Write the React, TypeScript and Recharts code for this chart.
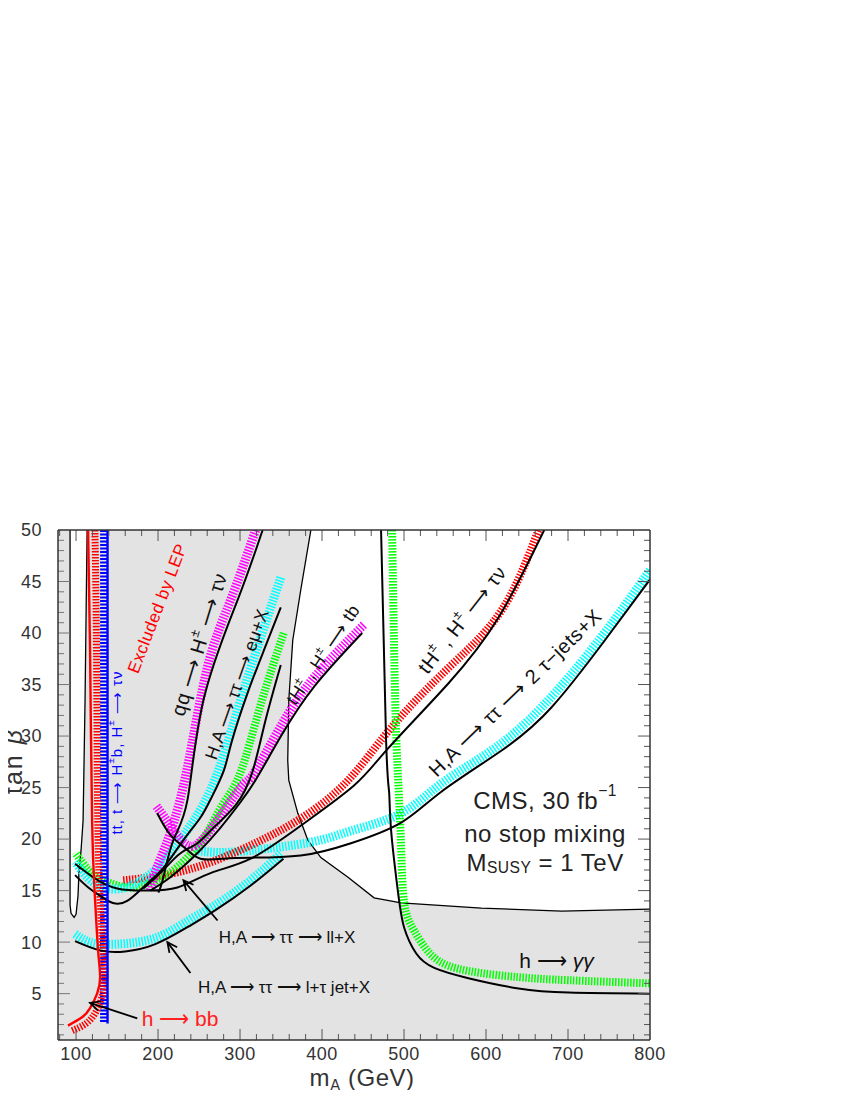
import React from 'react';
import {
  ComposedChart,
  Line,
  Area,
  XAxis,
  YAxis,
  CartesianGrid,
  ReferenceLine,
  ReferenceDot,
} from 'recharts';

type Pt = [number, number]; // [m_A (GeV), tan beta]

const FONT = '"Liberation Sans", Arial, sans-serif';
const X_MIN = 78;
const X_MAX = 800;
const Y_MIN = 0.5;
const Y_MAX = 50;
const PLOT_W = 592;
const PLOT_H = 510;

const xTicks = [100, 200, 300, 400, 500, 600, 700, 800];
const yTicks = [5, 10, 15, 20, 25, 30, 35, 40, 45, 50];

// unshaded regions
const lepChannel: Pt[] = [[92.7, 50], [92.7, 13.6], [93.9, 12.8], [97.6, 12.4], [100, 12.7], [102.4, 14.5], [103.7, 17.0], [106.1, 18.9], [108.6, 21.8], [111, 33.5], [113.5, 50]];
const upperRightWhite: Pt[] = [[386.4, 50], [374.1, 44.2], [364.3, 39.3], [359.5, 33.5], [358.2, 27.6], [359.5, 25.7], [370.5, 22.5], [382.7, 19.9], [398.6, 18.2], [431.7, 16.3], [463.5, 14.3], [496.5, 13.8], [594.4, 13.3], [692.3, 13.0], [800, 13.2]];

// excluded by LEP / h -> bb
const lepLine: Pt[] = [[114.7, 50], [117.1, 38.3], [119.6, 21.8], [123.3, 14.0], [126.9, 9.2], [129.4, 6.6], [125.7, 5.0], [117.1, 3.6], [107.3, 2.7], [90.2, 1.9]];
const lepHatch: Pt[] = [[123, 50], [125, 38.3], [126.5, 21.8], [129.5, 14], [133, 9.2], [135.5, 6.8], [132, 4.8], [124, 3.2], [112.2, 2.1], [95, 1.4]];

// tt, t -> H+ b, H+ -> tau nu
const topLine: Pt[] = [[138.4, 50], [138.4, 2.1]];
const topHatch: Pt[] = [[133.6, 50], [133.6, 2.1]];

// qq -> H+ -> tau nu
const qqHatch: Pt[] = [[319, 50], [288.5, 43.2], [260.3, 36.7], [235.9, 27], [215, 20.6], [199, 17.3], [190.6, 15]];
const qqLine: Pt[] = [[327.6, 50], [297, 43.2], [255.4, 33.5], [235.9, 23.8], [218.7, 19.9], [206.5, 16.3], [200.4, 14.8]];

// H,A -> tau tau -> e mu + X
const emuHatch: Pt[] = [[349.7, 45.4], [325, 39.5], [300, 33.3], [276, 27.2], [255, 23.3], [235, 20.8], [215, 18.6], [195, 16.9], [175, 15.8], [155, 15.2], [133, 15.3], [115, 16.2], [99, 17.8]];
const emuLine: Pt[] = [[349.7, 42.5], [330, 38.5], [309.3, 34.2], [290, 29.5], [280, 26.6], [265, 24], [251.8, 22.1], [231, 19.9], [206.5, 17.2], [186.9, 15.7], [162.4, 14.0], [145, 13.8], [133, 14.3], [115, 15.3], [98.8, 16.5]];

// H,A -> tau tau -> ll + X
const llHatch: Pt[] = [[353.3, 40], [325, 33], [300.7, 26.5], [280, 23.5], [264, 21.2], [248, 19.3], [223.6, 17.3], [199, 16], [180, 15.5], [162.4, 15.3], [133, 16], [115, 17], [98.8, 18.7]];
const llLine: Pt[] = [[349.7, 36.9], [331, 31.5], [315, 26.5], [294.6, 23.3], [267.7, 21.1], [248, 19.6], [227, 18.6], [206.5, 17], [182, 15.2]];

// tH+, H+ -> tb
const tbHatch: Pt[] = [[451, 40.8], [390.4, 35.7], [350, 31], [317, 26.4], [300.7, 25], [267.7, 21.3], [252, 19.8], [243, 19.3], [232, 19.6], [220, 20.7], [208, 22.1], [197, 23.3]];
const tbLine: Pt[] = [[449, 40], [390.4, 34.8], [350, 30], [321, 26], [300.7, 23.6], [275, 21], [250, 18.8], [230, 17.3], [210, 16], [190.6, 15]];

// tH+, H+ -> tau nu
const tauNuHatch: Pt[] = [[157.5, 16.0], [199, 16.4], [251.8, 17.4], [313, 19.4], [374, 22], [431.7, 25.7], [484.3, 30.8], [554, 36.6], [619, 42.2], [664, 50]];
const tauNuLine: Pt[] = [[98.8, 17.6], [120.8, 16.3], [150.2, 15.2], [186.9, 15.0], [223.6, 15.3], [264, 16.7], [313, 18.1], [374, 21.3], [439, 25.2], [480.6, 28.8], [554, 35.1], [615.3, 41.5], [671, 50]];

// H,A -> tau tau -> 2 tau-jets + X
const twoTauHatch: Pt[] = [[245.6, 18.9], [272.6, 18.7], [313, 18.9], [386.4, 19.7], [435.3, 20.8], [496.5, 22.5], [545.5, 25.4], [606.7, 28.6], [667.9, 32.8], [737.6, 39.3], [800, 46.1]];
const twoTauLine: Pt[] = [[199, 22.5], [215, 20.4], [233.4, 19.1], [251.8, 18.1], [280, 18.1], [313, 18.2], [374, 18.4], [435.3, 19.6], [496.5, 21.6], [545.5, 24.6], [619, 28.6], [680, 32.8], [745, 39.3], [800, 45.2]];

// H,A -> tau tau -> l + tau jet + X
const lTauHatch: Pt[] = [[98.8, 10.8], [117, 10], [147.7, 9.8], [196.7, 10.4], [237, 12.1], [270, 13.6], [313, 16], [349.7, 18.6]];
const lTauLine: Pt[] = [[98.8, 10.1], [129.4, 9.2], [160, 9.1], [196.7, 9.8], [237, 11.5], [270, 13.1], [313, 15.5], [353, 18.1]];

// h -> gamma gamma
const ggHatch: Pt[] = [[485.5, 50], [489.2, 33.5], [492.9, 25.7], [496.5, 19.2], [500.2, 13.8], [512.4, 11.1], [536.9, 8.5], [578.5, 7.2], [639.7, 6.6], [700.9, 6.3], [800, 6.0]];
const ggLine: Pt[] = [[472, 50], [478.2, 29.4], [481.9, 24.5], [484.3, 20.8], [492.9, 14.7], [500.2, 11.4], [514.9, 8.9], [536.9, 7.5], [578.5, 6.5], [639.7, 5.5], [700.9, 5.1], [800, 5.0]];

// arrows: [tail, tip]
const llArrow: Pt[] = [[272.6, 12.1], [231, 16.0]];
const lTauArrow: Pt[] = [[239.5, 7.0], [211.4, 10.0]];
const bbArrow: Pt[] = [[174.7, 2.6], [117.1, 4.1]];

const KX = PLOT_W / (X_MAX - X_MIN);
const KY = PLOT_H / (Y_MAX - Y_MIN);

const pts = (a: Pt[]) => a.map(([m, t]) => ({ m, t }));

const arrowHead = (tail: Pt, tip: Pt, len = 11, spread = 0.45): Pt[] => {
  const dx = (tip[0] - tail[0]) * KX;
  const dy = -(tip[1] - tail[1]) * KY;
  const n = Math.hypot(dx, dy);
  const ux = dx / n;
  const uy = dy / n;
  const wing = (a: number): Pt => {
    const c = Math.cos(a);
    const s = Math.sin(a);
    const wx = -(ux * c - uy * s) * len;
    const wy = -(ux * s + uy * c) * len;
    return [tip[0] + wx / KX, tip[1] - wy / KY];
  };
  return [wing(spread), tip, wing(-spread)];
};

const hatch = (key: string, data: Pt[], color: string, width = 8, dash = '1.5 1.5') => (
  <Line
    key={key}
    data={pts(data)}
    dataKey="t"
    type="natural"
    stroke={color}
    strokeWidth={width}
    strokeDasharray={dash}
    dot={false}
    activeDot={false}
    isAnimationActive={false}
  />
);

const solid = (key: string, data: Pt[], color = '#000', width = 2, type: any = 'natural') => (
  <Line
    key={key}
    data={pts(data)}
    dataKey="t"
    type={type}
    stroke={color}
    strokeWidth={width}
    dot={false}
    activeDot={false}
    isAnimationActive={false}
  />
);

type Seg = { t: string; sup?: boolean; sub?: boolean; it?: boolean };

const rich = (segs: Seg[], size: number) => {
  let off = 0;
  return segs.map((s, i) => {
    const target = s.sup ? -size * 0.4 : s.sub ? size * 0.22 : 0;
    const dy = target - off;
    off = target;
    return (
      <tspan
        key={i}
        dy={dy}
        fontSize={s.sup || s.sub ? size * 0.65 : size}
        fontStyle={s.it ? 'italic' : undefined}
      >
        {s.t}
      </tspan>
    );
  });
};

const textAt = (key: string, at: Pt, angle: number, size: number, color: string, segs: Seg[], ls = 0) => (
  <ReferenceDot
    key={key}
    x={at[0]}
    y={at[1]}
    r={0}
    fill="none"
    stroke="none"
    ifOverflow="visible"
    label={(p: any) => {
      const vb = p.viewBox || {};
      const cx = (vb.x ?? 0) + (vb.width ?? 0) / 2;
      const cy = (vb.y ?? 0) + (vb.height ?? 0) / 2;
      return (
        <text
          x={cx}
          y={cy}
          transform={angle ? `rotate(${angle} ${cx} ${cy})` : undefined}
          textAnchor="middle"
          dominantBaseline="central"
          fontSize={size}
          fill={color}
          fontFamily={FONT}
          letterSpacing={ls}
        >
          {rich(segs, size)}
        </text>
      );
    }}
  />
);

const ARR = '\u27F6';

export default function App() {
  // inward tick marks on all four sides
  const tickLines: React.ReactNode[] = [];
  for (let v = 80; v < 800; v += 20) {
    const len = v % 100 === 0 ? 11 / KY : 6 / KY;
    tickLines.push(
      <ReferenceLine key={`bx${v}`} segment={[{ x: v, y: Y_MIN }, { x: v, y: Y_MIN + len }]} stroke="#555" strokeWidth={1} />,
      <ReferenceLine key={`tx${v}`} segment={[{ x: v, y: Y_MAX }, { x: v, y: Y_MAX - len }]} stroke="#555" strokeWidth={1} />
    );
  }
  for (let v = 1; v < 50; v += 1) {
    const len = v % 5 === 0 ? 12 / KX : 6 / KX;
    tickLines.push(
      <ReferenceLine key={`ly${v}`} segment={[{ x: X_MIN, y: v }, { x: X_MIN + len, y: v }]} stroke="#777" strokeWidth={1} />,
      <ReferenceLine key={`ry${v}`} segment={[{ x: X_MAX, y: v }, { x: X_MAX - len, y: v }]} stroke="#555" strokeWidth={1} />
    );
  }

  return (
    <div style={{ margin: -8 }}>
      <ComposedChart width={688} height={1098} margin={{ top: 530, right: 38, bottom: 8, left: 8 }}>
        <CartesianGrid horizontal={false} vertical={false} fill="#e3e3e3" />
        <XAxis
          type="number"
          dataKey="m"
          domain={[X_MIN, X_MAX]}
          ticks={xTicks}
          interval={0}
          allowDataOverflow
          axisLine={false}
          tickLine={false}
          height={50}
          tickSize={4}
          tickMargin={3}
          tick={{ fontSize: 18, fill: '#333', fontFamily: FONT, letterSpacing: 0.5 }}
          label={(p: any) => {
            const vb = p.viewBox || {};
            const cx = vb.x + vb.width / 2 + 8;
            return (
              <text x={cx} y={vb.y + 46} textAnchor="middle" fontSize={24} fill="#333" fontFamily={FONT} letterSpacing={0.5}>
                {rich([{ t: 'm' }, { t: 'A', sub: true }, { t: ' (GeV)' }], 24)}
              </text>
            );
          }}
        />
        <YAxis
          type="number"
          dataKey="t"
          domain={[Y_MIN, Y_MAX]}
          ticks={yTicks}
          interval={0}
          allowDataOverflow
          axisLine={false}
          tickLine={false}
          width={50}
          tickSize={8}
          tickMargin={8}
          tick={{ fontSize: 18, fill: '#333', fontFamily: FONT, letterSpacing: 0.5 }}
          label={(p: any) => {
            const vb = p.viewBox || {};
            const x = 13;
            const y = vb.y + vb.height / 2 - 24;
            return (
              <text x={x} y={y} transform={`rotate(-90 ${x} ${y})`} textAnchor="middle" dominantBaseline="central" fontSize={25} fill="#333" fontFamily={FONT} letterSpacing={2}>
                tan <tspan fontStyle="italic">β</tspan>
              </text>
            );
          }}
        />

        <Area data={pts(lepChannel)} dataKey="t" type="linear" baseValue={Y_MAX} fill="#fff" fillOpacity={1} stroke="#000" strokeWidth={1.3} dot={false} activeDot={false} isAnimationActive={false} />
        <Area data={pts(upperRightWhite)} dataKey="t" type="linear" baseValue={Y_MAX} fill="#fff" fillOpacity={1} stroke="#000" strokeWidth={1.3} dot={false} activeDot={false} isAnimationActive={false} />

        {hatch('lTauH', lTauHatch, '#00ffff', 9)}
        {hatch('twoTauH', twoTauHatch, '#00ffff', 9)}
        {hatch('tauNuH', tauNuHatch, '#ff0000', 8)}
        {hatch('ggH', ggHatch, '#00ff00', 8)}
        {hatch('llH', llHatch, '#00ff00', 8)}
        {hatch('emuH', emuHatch, '#00ffff', 9)}
        {hatch('tbH', tbHatch, '#ff00ff', 9)}
        {hatch('qqH', qqHatch, '#ff00ff', 9)}
        {hatch('topH', topHatch, '#0000ff', 7, '2 1.5')}
        {hatch('lepH', lepHatch, '#ff0000', 7)}

        {solid('lTauL', lTauLine)}
        {solid('twoTauL', twoTauLine)}
        {solid('tauNuL', tauNuLine)}
        {solid('ggL', ggLine)}
        {solid('llL', llLine)}
        {solid('emuL', emuLine)}
        {solid('tbL', tbLine)}
        {solid('qqL', qqLine)}
        {solid('topL', topLine, '#0000ff', 2.4, 'linear')}
        {solid('lepL', lepLine, '#ff0000', 2.4)}

        {[llArrow, lTauArrow, bbArrow].map((a, i) => [
          solid(`arr${i}`, a, '#000', 1.8, 'linear'),
          solid(`arrh${i}`, arrowHead(a[0], a[1]), '#000', 1.8, 'linear'),
        ])}

        {tickLines}
        <ReferenceLine x={X_MIN} stroke="#333" strokeWidth={1.5} />
        <ReferenceLine x={X_MAX} stroke="#333" strokeWidth={1.5} />
        <ReferenceLine y={Y_MIN} stroke="#333" strokeWidth={1.5} />
        <ReferenceLine y={Y_MAX} stroke="#333" strokeWidth={1.5} />

        {textAt('lep', [198.8, 42.4], -69, 17, '#ff0000', [{ t: 'Excluded by LEP' }], 0.5)}
        {textAt('top', [149, 28.4], -90, 15, '#0000ff', [{ t: `tt, t ${ARR} H` }, { t: '±', sup: true }, { t: 'b, H' }, { t: '±', sup: true }, { t: ` ${ARR} τν` }], 1)}
        {textAt('qq', [250, 38.9], -73, 20, '#111', [{ t: `qq  ${ARR}  H` }, { t: '±', sup: true }, { t: `  ${ARR}  τν` }], 0.5)}
        {textAt('emu', [296.3, 35], -70.5, 18, '#111', [{ t: `H,A ${ARR} ττ ${ARR} eμ+X` }])}
        {textAt('tb', [401.2, 37.9], -56, 18, '#111', [{ t: 'tH' }, { t: '±', sup: true }, { t: ' , H' }, { t: '±', sup: true }, { t: `  ${ARR}  tb` }], 0.5)}
        {textAt('taunu', [570.7, 41.3], -52, 20, '#111', [{ t: 'tH' }, { t: '±', sup: true }, { t: ' , H' }, { t: '±', sup: true }, { t: `  ${ARR}  τν` }], 0.5)}
        {textAt('twotau', [635.4, 34.2], -44, 20, '#111', [{ t: `H,A ${ARR} ττ ${ARR} 2 τ−jets+X` }], 0.5)}
        {textAt('ll', [357.3, 10.5], 0, 17, '#111', [{ t: `H,A  ${ARR} ττ ${ARR} ll+X` }])}
        {textAt('ltau', [353.7, 5.6], 0, 17, '#111', [{ t: `H,A  ${ARR} ττ ${ARR} l+τ jet+X` }])}
        {textAt('bb', [226.8, 2.6], 0, 21, '#ff2020', [{ t: `h ${ARR}  bb` }])}
        {textAt('gg', [686, 8.3], 0, 21, '#111', [{ t: `h ${ARR} ` }, { t: 'γγ', it: true }])}
        {textAt('cms1', [672, 23.8], 0, 24, '#222', [{ t: 'CMS, 30 fb' }, { t: '−1', sup: true }], 0.5)}
        {textAt('cms2', [672, 20.6], 0, 24, '#222', [{ t: 'no stop mixing' }], 0.5)}
        {textAt('cms3', [672, 17.8], 0, 24, '#222', [{ t: 'M' }, { t: 'SUSY', sub: true }, { t: ' = 1 TeV' }], 0.5)}
      </ComposedChart>
    </div>
  );
}
